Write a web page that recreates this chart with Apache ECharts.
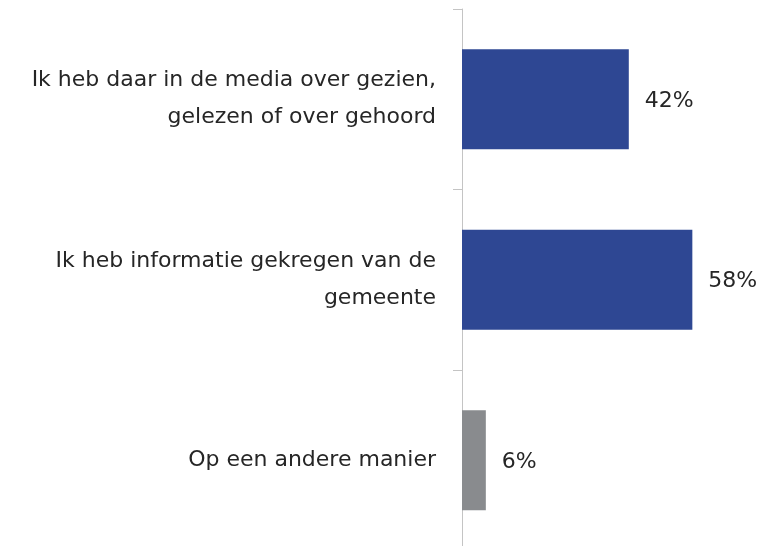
<!DOCTYPE html>
<html>
<head>
<meta charset="utf-8">
<script src="https://cdn.jsdelivr.net/npm/echarts@6/dist/echarts.min.js"></script>
<style>
  html, body { margin: 0; padding: 0; background: #fff; }
  #chart { width: 767px; height: 546px; }
</style>
</head>
<body>
<div id="chart"></div>
<script>
const categories = [
  "Ik heb daar in de media over gezien,\ngelezen of over gehoord",
  "Ik heb informatie gekregen van de\ngemeente",
  "Op een andere manier",
];
const values = [42, 58, 6];
const barColors = ["#2e4793", "#2e4793", "#898b8e"];

const chart = echarts.init(document.getElementById("chart"));

const option = {
  animation: false,
  textStyle: { fontFamily: "DejaVu Sans" },
  grid: {
    left: 462,
    top: 9,
    width: 278,
    height: 541.5,
    outerBoundsMode: "none",
  },
  xAxis: {
    type: "value",
    min: 0,
    max: 70,
    show: false,
  },
  yAxis: {
    type: "category",
    inverse: true,
    data: categories,
    axisLine: { lineStyle: { color: "#c4c4c4", width: 1 } },
    axisTick: { show: true, length: 9, lineStyle: { color: "#c4c4c4" } },
    axisLabel: {
      color: "#262626",
      fontSize: 22,
      lineHeight: 37,
      margin: 26,
      align: "right",
    },
  },
  series: [
    {
      type: "bar",
      data: values.map((v, i) => ({ value: v, itemStyle: { color: barColors[i] } })),
      barWidth: 100,
      label: {
        show: true,
        position: "right",
        distance: 16,
        offset: [0, 2],
        formatter: "{c}%",
        color: "#262626",
        fontSize: 22,
      },
    },
  ],
};

chart.setOption(option);
</script>
</body>
</html>
